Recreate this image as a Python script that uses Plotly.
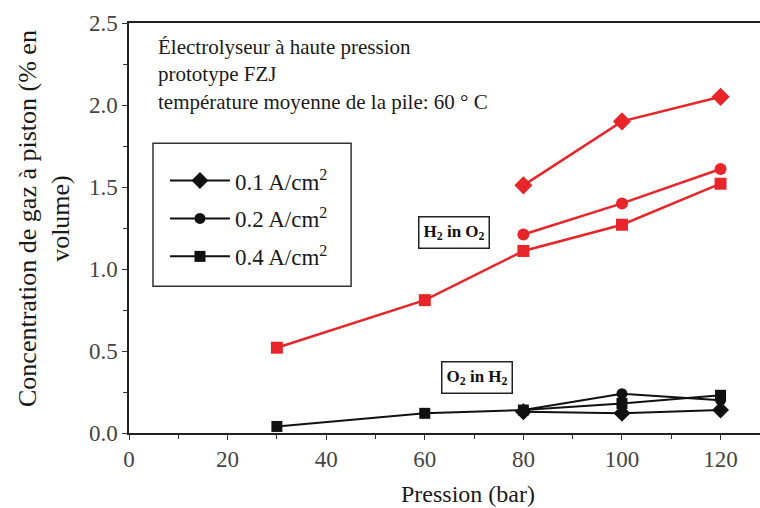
import plotly.graph_objects as go

# Pressure (bar)
pressure_all = [30, 60, 80, 100, 120]
pressure_hi = [80, 100, 120]

# H2 in O2 (% vol)
h2_in_o2_01 = [1.51, 1.90, 2.05]
h2_in_o2_02 = [1.21, 1.40, 1.61]
h2_in_o2_04 = [0.52, 0.81, 1.11, 1.27, 1.52]

# O2 in H2 (% vol)
o2_in_h2_01 = [0.13, 0.12, 0.14]
o2_in_h2_02 = [0.14, 0.24, 0.20]
o2_in_h2_04 = [0.04, 0.12, 0.14, 0.18, 0.23]

series_names = ["0.1 A/cm<sup>2</sup>", "0.2 A/cm<sup>2</sup>", "0.4 A/cm<sup>2</sup>"]
symbols = ["diamond", "circle", "square"]

FONT = "Liberation Serif, Times New Roman, serif"
RED = "#e8262a"
BLACK = "#111111"

fig = go.Figure()

red_sets = [(pressure_hi, h2_in_o2_01), (pressure_hi, h2_in_o2_02), (pressure_all, h2_in_o2_04)]
black_sets = [(pressure_hi, o2_in_h2_01), (pressure_hi, o2_in_h2_02), (pressure_all, o2_in_h2_04)]
sizes = [14, 12, 12]

for (x, y), sym, sz in zip(red_sets, symbols, sizes):
    fig.add_trace(go.Scatter(
        x=x, y=y, mode="lines+markers", showlegend=False,
        line=dict(color=RED, width=2.5),
        marker=dict(symbol=sym, size=sz, color=RED),
    ))

for i, ((x, y), sym, sz) in enumerate(zip(black_sets, symbols, sizes)):
    fig.add_trace(go.Scatter(
        x=x, y=y, mode="lines+markers", name=series_names[i],
        legendgroup=f"g{i}",
        line=dict(color=BLACK, width=2),
        marker=dict(symbol=sym, size=sz - 1, color=BLACK),
    ))

# Header text block on a white panel
fig.add_annotation(
    xref="paper", yref="paper", x=0.032, y=0.993, xanchor="left", yanchor="top",
    text="Électrolyseur à haute pression<br>prototype FZJ<br>température moyenne de la pile: 60 ° C",
    showarrow=False, align="left",
    font=dict(family=FONT, size=21, color="#1a1a1a"),
    bgcolor="white", borderpad=8,
)

# Frame around the legend
fig.add_shape(
    type="rect", xref="paper", yref="paper",
    x0=0.038, x1=0.352, y0=0.358, y1=0.707,
    line=dict(color="#333", width=1.5), fillcolor="white", layer="below",
)

# Series group labels
fig.add_annotation(
    x=66, y=1.22, text="<b>H<sub>2</sub> in O<sub>2</sub></b>", showarrow=False,
    font=dict(family=FONT, size=17, color="#111"),
    bordercolor="#222", borderwidth=1.5, borderpad=4, bgcolor="white",
)
fig.add_annotation(
    x=70.6, y=0.34, text="<b>O<sub>2</sub> in H<sub>2</sub></b>", showarrow=False,
    font=dict(family=FONT, size=17, color="#111"),
    bordercolor="#222", borderwidth=1.5, borderpad=4, bgcolor="white",
)

# Axis titles
fig.add_annotation(
    xref="paper", yref="paper", x=0.537, y=-0.149, xanchor="center", yanchor="middle",
    text="Pression (bar)", showarrow=False,
    font=dict(family=FONT, size=24, color="#1a1a1a"),
)
fig.add_annotation(
    xref="paper", yref="paper", x=-0.135, y=0.524, xanchor="center", yanchor="middle",
    text="Concentration de gaz à piston (% en<br>volume)", showarrow=False, textangle=-90,
    font=dict(family=FONT, size=26, color="#1a1a1a"),
)

axis_common = dict(
    showline=True, linecolor="#222", linewidth=1.5, showgrid=False, zeroline=False,
    ticks="outside", ticklen=5, tickwidth=1.2, tickcolor="#333",
    tickfont=dict(family=FONT, size=23, color="#444"),
    minor=dict(ticks="outside", ticklen=4, tickwidth=1.2, tickcolor="#333"),
)

fig.update_xaxes(
    range=[0, 128], tickmode="array", tickvals=[0, 20, 40, 60, 80, 100, 120],
    minor_dtick=10, minor_tick0=0, mirror=True, **axis_common,
)
fig.update_yaxes(
    range=[0, 2.5], tickmode="array", tickvals=[0, 0.5, 1.0, 1.5, 2.0, 2.5],
    ticktext=["0.0", "0.5", "1.0", "1.5", "2.0", "2.5"],
    minor_dtick=0.25, minor_tick0=0, **axis_common,
)

fig.update_layout(
    width=760, height=508,
    margin=dict(l=129, r=0, t=23, b=75),
    paper_bgcolor="white", plot_bgcolor="white",
    legend=dict(
        x=0.057, y=0.668, xanchor="left", yanchor="top",
        borderwidth=0, bgcolor="rgba(0,0,0,0)",
        font=dict(family=FONT, size=23, color="#1a1a1a"),
        itemwidth=60, tracegroupgap=5,
    ),
)

fig.write_html("out.html")
